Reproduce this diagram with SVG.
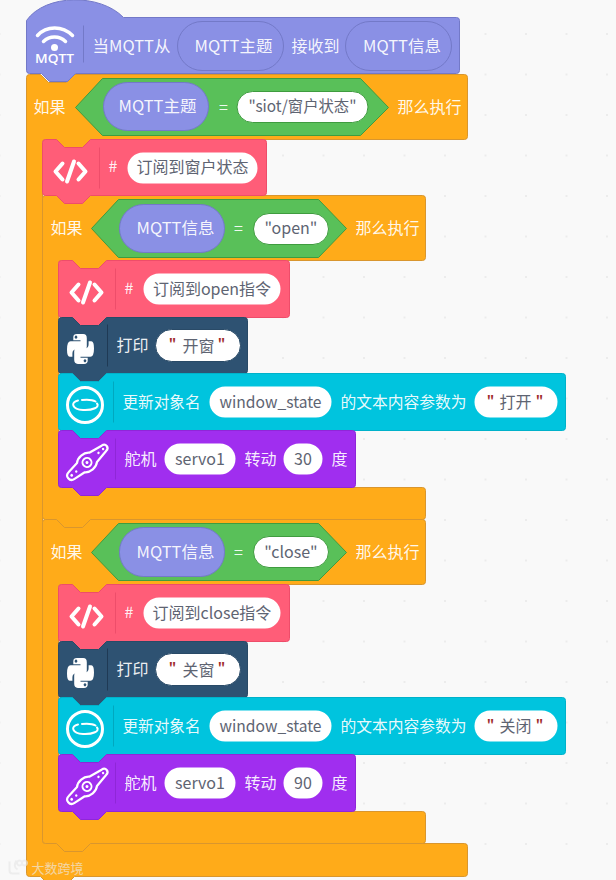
<svg xmlns="http://www.w3.org/2000/svg" xmlns:xlink="http://www.w3.org/1999/xlink" width="616" height="880" viewBox="0 0 616 880">
<style>
text{font-family:"Noto Sans CJK SC","Noto Sans",sans-serif;font-size:16px;dominant-baseline:central;transform:translateY(-1.2px)}
.w{fill:#fff;fill-opacity:.93}
.v{fill:#5e6472;text-anchor:middle}
.m{text-anchor:middle}
.q{fill:#a02c2c;font-size:13px;font-weight:700;text-anchor:middle}
.o{fill:#ffab19;stroke:#d9962e}
.g{fill:#59c059;stroke:#3f9c3f}
.h{fill:#8a90e5;stroke:#7379c8}
.p{fill:#ff5d78;stroke:#ee4d6a}
.d{fill:#2e5272;stroke:#294a67}
.c{fill:#00c4de;stroke:#00b2ca}
.u{fill:#a02eef;stroke:#8f26d8}
.wp{fill:#fff}
.sep{stroke-width:1;fill:none}
.ic{fill:none;stroke:#fff;stroke-linecap:round;stroke-linejoin:round}
</style>
<defs>
<pattern id="dots" width="40.5" height="40.5" patternUnits="userSpaceOnUse" x="-1.5" y="-7.5">
<rect x="0" y="0" width="2" height="2" fill="#ececec"/>
</pattern>
<g id="code"><path class="ic" stroke-width="4" d="M-8,-8 L-15,0 L-8,8 M8,-8 L15,0 L8,8 M3.5,-10 L-3.5,10"/></g>
<g id="py" transform="translate(80 348.500) scale(.9 1.03) translate(-84 -345.500)">
<path id="snake" fill="#fff" fill-rule="evenodd" d="M80,331 H87 Q91,331 91,335 V343 Q91,346 88,346 H79 Q75,346 75,350 V353 H72 Q69,353 69,346 Q69,338 73,338 H84 V337 H76 V334 Q76,331 80,331 Z M79,332.500 a1.500,1.500 0 1 0 .01,0 Z"/>
<use xlink:href="#snake" href="#snake" transform="rotate(180 84 345.500)"/>
</g>
<g id="obj">
<circle class="ic" r="17.500" stroke-width="3"/>
<path class="ic" stroke-width="2" d="M-7,-4.500 C-15,-3 -13,4.500 -2,5 C8,5.500 15,2 12,-1.500 M-3,-5 C2,-5.500 8,-5 10.500,-3.500"/>
</g>
<g id="servo">
<path class="ic" stroke-width="2.200" d="M-8,-6 C-4,-10 4,-10 8,-6 L22,-3.500 C27,-3 27,3 22,3.500 L8,6 C4,10 -4,10 -8,6 L-20,4.500 C-26,4 -26,-4 -20,-4.500 Z"/>
<circle class="ic" r="4.500" stroke-width="2"/>
<circle r="1.500" fill="#fff"/>
<circle cx="-20" r="1.400" fill="#fff"/><circle cx="-14" r="1.200" fill="#fff"/><circle cx="15" r="1.200" fill="#fff"/><circle cx="21" r="1.200" fill="#fff"/>
</g>
</defs>
<rect width="616" height="880" fill="#f9f9f9"/>
<rect width="616" height="880" fill="url(#dots)"/>

<g transform="translate(.5 .5)">
<g id="connectors"></g>

<g id="if-outer">
<path class="o" d="M29,74 H40 l8,8 h18 l8,-8 H464 Q467,74 467,77 V136 Q467,139 464,139 H90 l-8,8 h-18 l-8,-8 H45 Q42,139 42,142 V840 Q42,843 45,843 H56 l8,8 h18 l8,-8 H464 Q467,843 467,846 V873 Q467,876 464,876 H74 l-8,8 h-18 l-8,-8 H29 Q26,876 26,873 V77 Q26,74 29,74 Z"/>
<text class="w" x="33" y="107">如果</text>
<path class="g" d="M75,107 L102,78 H360 L388,107 L360,135 H102 Z"/>
<rect class="h" x="103" y="82" width="105" height="48" rx="24"/>
<text class="w m" x="157" y="106" textLength="78" lengthAdjust="spacingAndGlyphs">MQTT主题</text>
<text class="w m" x="223" y="107">=</text>
<rect class="wp" stroke="#3f9c3f" x="236.500" y="91" width="131" height="31" rx="15.500"/>
<text class="v" x="302" y="106" textLength="108" lengthAdjust="spacingAndGlyphs">"siot/窗户状态"</text>
<text class="w" x="397" y="107">那么执行</text>
</g>

<g id="hat-mqtt">
<path class="h" d="M26,20 C45,-7 100,-7 123,17 H456 Q459,17 459,20 V70 Q459,73 456,73 H75 l-8,8 h-18 l-8,-8 H29 Q26,73 26,70 Z"/>
<path class="ic" stroke-width="3.500" d="M37,35 C46,25 62,25 72,35 M43,41 C49,35 59,35 65,41"/>
<circle cx="54" cy="47" r="3.500" fill="#fff"/>
<text x="34.500" y="59" fill="#fff" style="font-family:'Open Sans',sans-serif;font-size:13px;font-weight:600" textLength="39" lengthAdjust="spacingAndGlyphs">MQTT</text>
<line class="sep" stroke="#7379c8" x1="83" y1="25" x2="83" y2="62"/>
<text class="w" x="92" y="46" textLength="78" lengthAdjust="spacingAndGlyphs">当MQTT从</text>
<rect class="h" x="177" y="21" width="106" height="49" rx="24.500"/>
<text class="w m" x="233" y="46" textLength="78" lengthAdjust="spacingAndGlyphs">MQTT主题</text>
<text class="w" x="291" y="46">接收到</text>
<rect class="h" x="345" y="21" width="106" height="49" rx="24.500"/>
<text class="w m" x="401.500" y="46" textLength="78" lengthAdjust="spacingAndGlyphs">MQTT信息</text>
</g>

<g id="if-open">
<path class="o" d="M45,195 H56 l8,8 h18 l8,-8 H422 Q425,195 425,198 V257 Q425,260 422,260 H106 l-8,8 h-18 l-8,-8 H61 Q58,260 58,263 V484 Q58,487 61,487 H72 l8,8 h18 l8,-8 H422 Q425,487 425,490 V516 Q425,519 422,519 H90 l-8,8 h-18 l-8,-8 H45 Q42,519 42,516 V198 Q42,195 45,195 Z"/>
<text class="w" x="50" y="228">如果</text>
<path class="g" d="M91,228 L118,199 H318 L346,228 L318,257 H118 Z"/>
<rect class="h" x="119" y="204" width="105" height="48" rx="24"/>
<text class="w m" x="175" y="228" textLength="78" lengthAdjust="spacingAndGlyphs">MQTT信息</text>
<text class="w m" x="238" y="228">=</text>
<rect class="wp" stroke="#3f9c3f" x="253" y="213" width="75" height="31" rx="15.500"/>
<text class="v" x="290.500" y="228">"open"</text>
<text class="w" x="355" y="228">那么执行</text>
</g>

<g id="if-close">
<path class="o" d="M45,519 H56 l8,8 h18 l8,-8 H422 Q425,519 425,522 V581 Q425,584 422,584 H106 l-8,8 h-18 l-8,-8 H61 Q58,584 58,587 V808 Q58,811 61,811 H72 l8,8 h18 l8,-8 H422 Q425,811 425,814 V840 Q425,843 422,843 H90 l-8,8 h-18 l-8,-8 H45 Q42,843 42,840 V522 Q42,519 45,519 Z"/>
<text class="w" x="50" y="552">如果</text>
<path class="g" d="M91,552 L118,523 H318 L346,552 L318,580 H118 Z"/>
<rect class="h" x="119" y="527" width="105" height="49" rx="24"/>
<text class="w m" x="175" y="552" textLength="78" lengthAdjust="spacingAndGlyphs">MQTT信息</text>
<text class="w m" x="238" y="552">=</text>
<rect class="wp" stroke="#3f9c3f" x="253" y="536" width="75" height="31" rx="15.500"/>
<text class="v" x="290.500" y="552">"close"</text>
<text class="w" x="355" y="552">那么执行</text>
</g>

<g id="comment-state">
<path class="p" d="M45,139 H56 l8,8 h18 l8,-8 H263 Q266,139 266,142 V192 Q266,195 263,195 H90 l-8,8 h-18 l-8,-8 H45 Q42,195 42,192 V142 Q42,139 45,139 Z"/>
<use href="#code" xlink:href="#code" x="70" y="171"/>
<line class="sep" stroke="#ee4d6a" x1="99" y1="147" x2="99" y2="188"/>
<text class="w" x="108" y="166">#</text>
<rect class="wp" x="127" y="152" width="130" height="31" rx="15.500"/>
<text class="v" x="192" y="167">订阅到窗户状态</text>
</g>

<g id="comment-open">
<path class="p" d="M61,260 H72 l8,8 h18 l8,-8 H286 Q289,260 289,263 V314 Q289,317 286,317 H106 l-8,8 h-18 l-8,-8 H61 Q58,317 58,314 V263 Q58,260 61,260 Z"/>
<use href="#code" xlink:href="#code" x="86" y="292"/>
<line class="sep" stroke="#ee4d6a" x1="115" y1="268" x2="115" y2="309"/>
<text class="w" x="124" y="288">#</text>
<rect class="wp" x="143" y="273" width="137" height="31" rx="15.500"/>
<text class="v" x="211.500" y="289">订阅到open指令</text>
</g>

<g id="print-open">
<path class="d" d="M61,317 H72 l8,8 h18 l8,-8 H244 Q247,317 247,320 V370 Q247,373 244,373 H106 l-8,8 h-18 l-8,-8 H61 Q58,373 58,370 V320 Q58,317 61,317 Z"/>
<use href="#py" xlink:href="#py"/>
<line class="sep" stroke="#1f3a55" x1="107" y1="324" x2="107" y2="366"/>
<text class="w" x="116" y="345">打印</text>
<rect class="wp" stroke="#294a67" x="155" y="329" width="85" height="32" rx="16"/>
<text class="q" x="172" y="343">"</text>
<text class="v" x="198" y="346">开窗</text>
<text class="q" x="221" y="343">"</text>
</g>

<g id="update-open">
<path class="c" d="M61,373 H72 l8,8 h18 l8,-8 H562 Q565,373 565,376 V427 Q565,430 562,430 H106 l-8,8 h-18 l-8,-8 H61 Q58,430 58,427 V376 Q58,373 61,373 Z"/>
<use href="#obj" xlink:href="#obj" x="84.500" y="404.500"/>
<line class="sep" stroke="#00a8bf" x1="113" y1="381" x2="113" y2="422"/>
<text class="w" x="122" y="402" textLength="78" lengthAdjust="spacingAndGlyphs">更新对象名</text>
<rect class="wp" x="209" y="386" width="122" height="31" rx="15.500"/>
<text class="v" x="270" y="402" textLength="102" lengthAdjust="spacingAndGlyphs">window_state</text>
<text class="w" x="340" y="402" textLength="126" lengthAdjust="spacingAndGlyphs">的文本内容参数为</text>
<rect class="wp" x="474" y="386" width="83" height="31" rx="15.500"/>
<text class="q" x="490" y="400">"</text>
<text class="v" x="515" y="402">打开</text>
<text class="q" x="539" y="400">"</text>
</g>

<g id="servo-open">
<path class="u" d="M61,430 H72 l8,8 h18 l8,-8 H352 Q355,430 355,433 V484 Q355,487 352,487 H106 l-8,8 h-18 l-8,-8 H61 Q58,487 58,484 V433 Q58,430 61,430 Z"/>
<use href="#servo" xlink:href="#servo" transform="translate(86.500 462) rotate(-40)"/>
<line class="sep" stroke="#8f26d8" x1="115" y1="438" x2="115" y2="479"/>
<text class="w" x="124" y="459">舵机</text>
<rect class="wp" x="164" y="443" width="71" height="31" rx="15.500"/>
<text class="v" x="199.500" y="459">servo1</text>
<text class="w" x="244" y="459">转动</text>
<rect class="wp" x="283" y="443" width="39" height="31" rx="15.500"/>
<text class="v" x="302.500" y="459">30</text>
<text class="w" x="331" y="459">度</text>
</g>

<g id="comment-close">
<path class="p" d="M61,584 H72 l8,8 h18 l8,-8 H286 Q289,584 289,587 V638 Q289,641 286,641 H106 l-8,8 h-18 l-8,-8 H61 Q58,641 58,638 V587 Q58,584 61,584 Z"/>
<use href="#code" xlink:href="#code" x="86" y="616"/>
<line class="sep" stroke="#ee4d6a" x1="115" y1="592" x2="115" y2="633"/>
<text class="w" x="124" y="612">#</text>
<rect class="wp" x="143" y="597" width="137" height="31" rx="15.500"/>
<text class="v" x="211.500" y="613">订阅到close指令</text>
</g>

<g id="print-close">
<path class="d" d="M61,641 H72 l8,8 h18 l8,-8 H244 Q247,641 247,644 V694 Q247,697 244,697 H106 l-8,8 h-18 l-8,-8 H61 Q58,697 58,694 V644 Q58,641 61,641 Z"/>
<use href="#py" xlink:href="#py" y="324"/>
<line class="sep" stroke="#1f3a55" x1="107" y1="648" x2="107" y2="690"/>
<text class="w" x="116" y="669">打印</text>
<rect class="wp" stroke="#294a67" x="155" y="653" width="85" height="32" rx="16"/>
<text class="q" x="172" y="667">"</text>
<text class="v" x="198" y="670">关窗</text>
<text class="q" x="221" y="667">"</text>
</g>

<g id="update-close">
<path class="c" d="M61,697 H72 l8,8 h18 l8,-8 H562 Q565,697 565,700 V751 Q565,754 562,754 H106 l-8,8 h-18 l-8,-8 H61 Q58,754 58,751 V700 Q58,697 61,697 Z"/>
<use href="#obj" xlink:href="#obj" x="84.500" y="728.500"/>
<line class="sep" stroke="#00a8bf" x1="113" y1="705" x2="113" y2="746"/>
<text class="w" x="122" y="726" textLength="78" lengthAdjust="spacingAndGlyphs">更新对象名</text>
<rect class="wp" x="209" y="710" width="122" height="31" rx="15.500"/>
<text class="v" x="270" y="726" textLength="102" lengthAdjust="spacingAndGlyphs">window_state</text>
<text class="w" x="340" y="726" textLength="126" lengthAdjust="spacingAndGlyphs">的文本内容参数为</text>
<rect class="wp" x="474" y="710" width="83" height="31" rx="15.500"/>
<text class="q" x="490" y="724">"</text>
<text class="v" x="515" y="726">关闭</text>
<text class="q" x="539" y="724">"</text>
</g>

<g id="servo-close">
<path class="u" d="M61,754 H72 l8,8 h18 l8,-8 H352 Q355,754 355,757 V808 Q355,811 352,811 H106 l-8,8 h-18 l-8,-8 H61 Q58,811 58,808 V757 Q58,754 61,754 Z"/>
<use href="#servo" xlink:href="#servo" transform="translate(86.500 786) rotate(-40)"/>
<line class="sep" stroke="#8f26d8" x1="115" y1="762" x2="115" y2="803"/>
<text class="w" x="124" y="783">舵机</text>
<rect class="wp" x="164" y="767" width="71" height="31" rx="15.500"/>
<text class="v" x="199.500" y="783">servo1</text>
<text class="w" x="244" y="783">转动</text>
<rect class="wp" x="283" y="767" width="39" height="31" rx="15.500"/>
<text class="v" x="302.500" y="783">90</text>
<text class="w" x="331" y="783">度</text>
</g>

<g id="watermark" opacity=".65">
<path fill="none" stroke="#e8e8e8" stroke-width="2" d="M9,861 V870 Q9,873 12,873 H19 M16,860 Q12,866 17,869 M19,860 a2.500,2.500 0 1 0 .01,0 M24,860 a2.500,2.500 0 1 0 .01,0"/>
<text x="31" y="868" fill="#eee" style="font-size:13px">大数跨境</text>
</g>
</g>
</svg>
